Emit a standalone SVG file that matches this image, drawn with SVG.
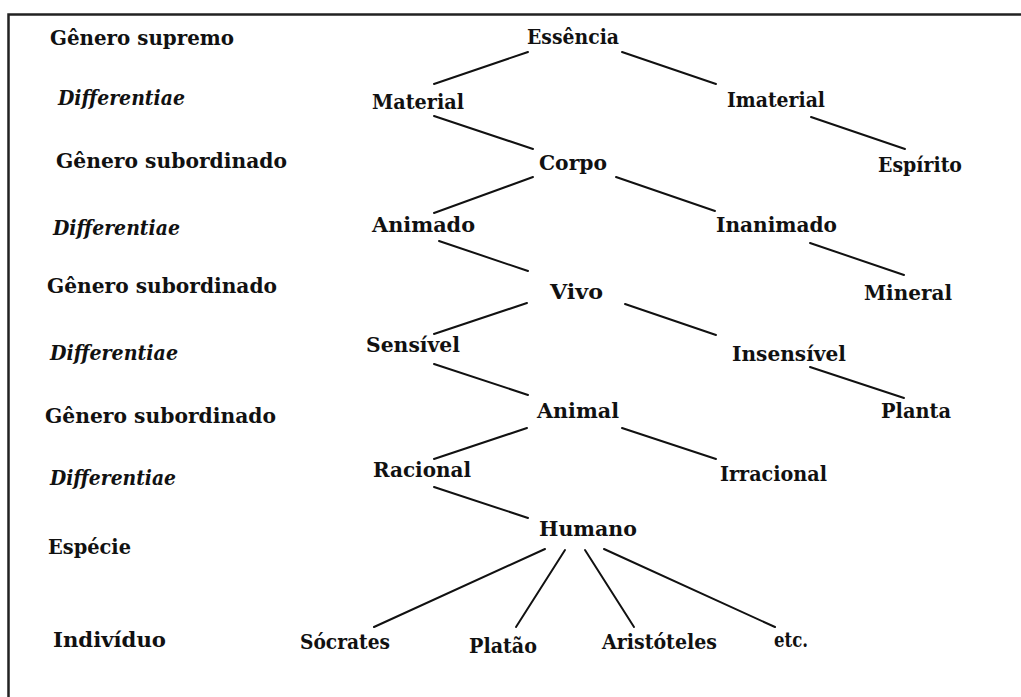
<svg xmlns="http://www.w3.org/2000/svg" width="1021" height="697" viewBox="0 0 1021 697">
  <style>
    .t { font-family: "DejaVu Serif", "Liberation Serif", serif; font-weight: bold; font-size: 19.5px; fill: #111; }
    .lab { font-family: "DejaVu Serif", "Liberation Serif", serif; font-weight: bold; font-size: 19.5px; fill: #111; }
    .it { font-style: italic; font-weight: 600; }
    .edge { stroke: #111; stroke-width: 2; stroke-linecap: round; fill: none; }
    .frame { stroke: #222; stroke-width: 2.5; fill: none; }
  </style>
  <rect width="1021" height="697" fill="#fff"/>

  <!-- frame (open to the right and bottom) -->
  <path class="frame" d="M1025 14.5 H8.5 V700"/>

  <!-- level labels -->
  <g id="levels">
    <text class="lab" x="50" y="45" textLength="184" lengthAdjust="spacingAndGlyphs">Gênero supremo</text>
    <text class="lab it" x="58" y="105" textLength="127" lengthAdjust="spacingAndGlyphs">Differentiae</text>
    <text class="lab" x="56" y="168" textLength="231" lengthAdjust="spacingAndGlyphs">Gênero subordinado</text>
    <text class="lab it" x="53" y="235" textLength="127" lengthAdjust="spacingAndGlyphs">Differentiae</text>
    <text class="lab" x="47" y="293" textLength="230" lengthAdjust="spacingAndGlyphs">Gênero subordinado</text>
    <text class="lab it" x="50" y="360" textLength="128" lengthAdjust="spacingAndGlyphs">Differentiae</text>
    <text class="lab" x="45" y="423" textLength="231" lengthAdjust="spacingAndGlyphs">Gênero subordinado</text>
    <text class="lab it" x="50" y="485" textLength="126" lengthAdjust="spacingAndGlyphs">Differentiae</text>
    <text class="lab" x="48" y="554" textLength="83" lengthAdjust="spacingAndGlyphs">Espécie</text>
    <text class="lab" x="53" y="647" textLength="113" lengthAdjust="spacingAndGlyphs">Indivíduo</text>
  </g>

  <!-- connectors -->
  <g id="edges">
    <line class="edge" x1="528" y1="52" x2="434" y2="84"/>
    <line class="edge" x1="622" y1="52" x2="716" y2="84"/>
    <line class="edge" x1="434" y1="116" x2="533" y2="149"/>
    <line class="edge" x1="811" y1="117" x2="905" y2="149"/>
    <line class="edge" x1="533" y1="177" x2="434" y2="213"/>
    <line class="edge" x1="616" y1="177" x2="715" y2="211"/>
    <line class="edge" x1="439" y1="241" x2="528" y2="271"/>
    <line class="edge" x1="810" y1="243" x2="904" y2="275"/>
    <line class="edge" x1="527" y1="303" x2="434" y2="334"/>
    <line class="edge" x1="625" y1="304" x2="716" y2="335"/>
    <line class="edge" x1="434" y1="364" x2="528" y2="395"/>
    <line class="edge" x1="810" y1="367" x2="904" y2="398"/>
    <line class="edge" x1="527" y1="428" x2="434" y2="459"/>
    <line class="edge" x1="622" y1="428" x2="716" y2="459"/>
    <line class="edge" x1="434" y1="487" x2="528" y2="518"/>
    <line class="edge" x1="545" y1="549" x2="374" y2="627"/>
    <line class="edge" x1="565" y1="550" x2="516" y2="627"/>
    <line class="edge" x1="585" y1="550" x2="634" y2="627"/>
    <line class="edge" x1="604" y1="549" x2="775" y2="627"/>
  </g>

  <!-- tree nodes -->
  <g id="n-essencia"><text class="t" x="527" y="44" textLength="92" lengthAdjust="spacingAndGlyphs">Essência</text></g>
  <g id="n-material"><text class="t" x="372" y="109" textLength="92" lengthAdjust="spacingAndGlyphs">Material</text></g>
  <g id="n-imaterial"><text class="t" x="727" y="107" textLength="98" lengthAdjust="spacingAndGlyphs">Imaterial</text></g>
  <g id="n-corpo"><text class="t" x="539" y="170" textLength="68" lengthAdjust="spacingAndGlyphs">Corpo</text></g>
  <g id="n-espirito"><text class="t" x="878" y="172" textLength="84" lengthAdjust="spacingAndGlyphs">Espírito</text></g>
  <g id="n-animado"><text class="t" x="372" y="232" textLength="103" lengthAdjust="spacingAndGlyphs">Animado</text></g>
  <g id="n-inanimado"><text class="t" x="716" y="232" textLength="121" lengthAdjust="spacingAndGlyphs">Inanimado</text></g>
  <g id="n-vivo"><text class="t" x="550" y="299" textLength="53" lengthAdjust="spacingAndGlyphs">Vivo</text></g>
  <g id="n-mineral"><text class="t" x="864" y="300" textLength="88" lengthAdjust="spacingAndGlyphs">Mineral</text></g>
  <g id="n-sensivel"><text class="t" x="366" y="352" textLength="94" lengthAdjust="spacingAndGlyphs">Sensível</text></g>
  <g id="n-insensivel"><text class="t" x="732" y="361" textLength="114" lengthAdjust="spacingAndGlyphs">Insensível</text></g>
  <g id="n-animal"><text class="t" x="537" y="418" textLength="82" lengthAdjust="spacingAndGlyphs">Animal</text></g>
  <g id="n-planta"><text class="t" x="881" y="418" textLength="70" lengthAdjust="spacingAndGlyphs">Planta</text></g>
  <g id="n-racional"><text class="t" x="373" y="477" textLength="98" lengthAdjust="spacingAndGlyphs">Racional</text></g>
  <g id="n-irracional"><text class="t" x="720" y="481" textLength="107" lengthAdjust="spacingAndGlyphs">Irracional</text></g>
  <g id="n-humano"><text class="t" x="539" y="536" textLength="98" lengthAdjust="spacingAndGlyphs">Humano</text></g>
  <g id="n-socrates"><text class="t" x="300" y="649" textLength="90" lengthAdjust="spacingAndGlyphs">Sócrates</text></g>
  <g id="n-platao"><text class="t" x="469" y="653" textLength="68" lengthAdjust="spacingAndGlyphs">Platão</text></g>
  <g id="n-aristoteles"><text class="t" x="602" y="649" textLength="115" lengthAdjust="spacingAndGlyphs">Aristóteles</text></g>
  <g id="n-etc"><text class="t" x="774" y="647" textLength="34" lengthAdjust="spacingAndGlyphs">etc.</text></g>
</svg>
